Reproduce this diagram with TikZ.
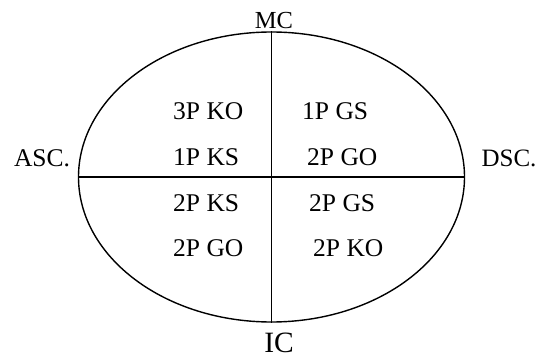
\documentclass[tikz,border=0pt]{standalone}
\usepackage{fontspec}
\setmainfont{Liberation Serif}
\usetikzlibrary{shapes.geometric}

\begin{document}
\begin{tikzpicture}[x=1pt,y=-1pt]
			\tikzstyle{every node}=[inner sep=0pt]
			\tikzstyle{house}=[anchor=base west,font=\fontsize{25.5}{30}\selectfont]
			\tikzstyle{angle}=[anchor=base,font=\fontsize{25.5}{30}\selectfont]
			\useasboundingbox (0,0) rectangle (539,358);
			
			\node (chart) [draw,ellipse,line width=1.4pt,minimum width=386pt,minimum height=290pt] at (271.5,177) {};
			\path[-,line width=1.4pt]
			(chart.north) edge (chart.south)
			(chart.west) edge (chart.east);
			
			\node (mc) [angle,font=\fontsize{24.5}{29}\selectfont] at (274,28.3) {MC};
			\node (ic) [angle,font=\fontsize{29.5}{35}\selectfont] at (279,353) {IC};
			\node (asc) [angle] at (42,166.7) {ASC.};
			\node (dsc) [angle,font=\fontsize{25}{30}\selectfont] at (509,166.7) {DSC.};
			
			\node (q1a) [house] at (173,120) {3P KO};
			\node (q1b) [house] at (173,166) {1P KS};
			\node (q2a) [house] at (302,120) {1P GS};
			\node (q2b) [house] at (307,166) {2P GO};
			\node (q3a) [house] at (173,212) {2P KS};
			\node (q3b) [house] at (173,257) {2P GO};
			\node (q4a) [house] at (309,212) {2P GS};
			\node (q4b) [house] at (313,257) {2P KO};
		\end{tikzpicture}
\end{document}
